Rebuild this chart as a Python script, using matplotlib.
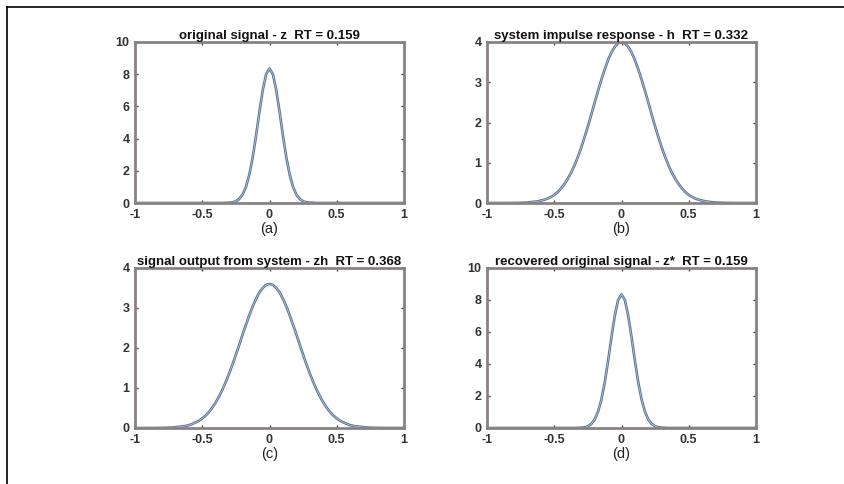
import matplotlib
matplotlib.use("Agg")
import matplotlib.pyplot as plt
import numpy as np
from matplotlib.lines import Line2D

# Sample grid, step 0.025 from -1 to 1
X = np.round(np.arange(-40, 41) * 0.025, 3)

# original signal z
Z = [0, 0, 0, 0, 0, 0, 0, 0, 0, 0, 0, 0, 0, 0, 0, 0, 0, 0, 0, 0, 0, 0, 0, 0, 0, 0, 0,
     0.01, 0.02, 0.04, 0.11, 0.25, 0.52, 1.00, 1.76, 2.83, 4.18, 5.66, 7.02, 8.00,
     8.35,
     8.00, 7.02, 5.66, 4.18, 2.83, 1.76, 1.00, 0.52, 0.25, 0.11, 0.04, 0.02, 0.01,
     0, 0, 0, 0, 0, 0, 0, 0, 0, 0, 0, 0, 0, 0, 0, 0, 0, 0, 0, 0, 0, 0, 0, 0, 0, 0, 0]

# system impulse response h (panel b)
H = [0, 0, 0, 0, 0, 0, 0,
     0.001, 0.002, 0.003, 0.005, 0.008, 0.01, 0.02, 0.03, 0.04, 0.06, 0.08, 0.11,
     0.15, 0.20, 0.27, 0.36, 0.47, 0.60, 0.75, 0.93, 1.14, 1.37, 1.63, 1.90, 2.19,
     2.49, 2.78, 3.06, 3.32, 3.55, 3.74, 3.88, 3.97,
     4.00,
     3.97, 3.88, 3.74, 3.55, 3.32, 3.06, 2.78, 2.49, 2.19, 1.90, 1.63, 1.37, 1.14,
     0.93, 0.75, 0.60, 0.47, 0.36, 0.27, 0.20, 0.15, 0.11, 0.08, 0.06, 0.04, 0.03,
     0.02, 0.01, 0.008, 0.005, 0.003, 0.002, 0.001,
     0, 0, 0, 0, 0, 0, 0]

# signal output from system zh (panel c)
ZH = [0, 0, 0, 0, 0, 0,
      0.001, 0.002, 0.003, 0.005, 0.008, 0.01, 0.02, 0.03, 0.04, 0.05, 0.07, 0.10,
      0.14, 0.18, 0.24, 0.31, 0.40, 0.51, 0.64, 0.79, 0.96, 1.15, 1.36, 1.59, 1.83,
      2.08, 2.34, 2.58, 2.82, 3.04, 3.23, 3.39, 3.50, 3.58,
      3.60,
      3.58, 3.50, 3.39, 3.23, 3.04, 2.82, 2.58, 2.34, 2.08, 1.83, 1.59, 1.36, 1.15,
      0.96, 0.79, 0.64, 0.51, 0.40, 0.31, 0.24, 0.18, 0.14, 0.10, 0.07, 0.05, 0.04,
      0.03, 0.02, 0.01, 0.008, 0.005, 0.003, 0.002, 0.001,
      0, 0, 0, 0, 0, 0]

# recovered original signal z* (panel d)
ZR = [0, 0, 0, 0, 0, 0, 0, 0, 0, 0, 0, 0, 0, 0, 0, 0, 0, 0, 0, 0, 0, 0, 0, 0, 0, 0, 0,
      0.01, 0.02, 0.04, 0.11, 0.25, 0.52, 1.00, 1.76, 2.83, 4.18, 5.66, 7.02, 8.00,
      8.35,
      8.00, 7.02, 5.66, 4.18, 2.83, 1.76, 1.00, 0.52, 0.25, 0.11, 0.04, 0.02, 0.01,
      0, 0, 0, 0, 0, 0, 0, 0, 0, 0, 0, 0, 0, 0, 0, 0, 0, 0, 0, 0, 0, 0, 0, 0, 0, 0, 0]

TITLES = ["original signal - z  RT = 0.159",
          "system impulse response - h  RT = 0.332",
          "signal output from system - zh  RT = 0.368",
          "recovered original signal - z*  RT = 0.159"]
LABELS = ["(a)", "(b)", "(c)", "(d)"]
YMAX = [10, 4, 4, 10]
YSTEP = [2, 1, 1, 2]
XTICKS = [-1, -0.5, 0, 0.5, 1]
XTICK_LABELS = ["-1", "-0.5", "0", "0.5", "1"]

plt.rcParams.update({"font.family": ["Liberation Sans", "DejaVu Sans"]})

W, Hpx = 844, 484
fig = plt.figure(figsize=(W / 100, Hpx / 100), dpi=100)
fig.patch.set_facecolor("white")

# page frame lines (top and left)
fig.add_artist(Line2D([7 / W, 1], [1 - 7 / Hpx, 1 - 7 / Hpx], color="black", lw=1.2))
fig.add_artist(Line2D([7 / W, 7 / W], [0, 1 - 7 / Hpx], color="black", lw=1.2))

boxes = [(135, 42, 404, 203), (487, 42, 756, 203),
         (135, 268, 404, 428), (487, 268, 756, 428)]
series = [Z, H, ZH, ZR]

for i, (l, t, r, b) in enumerate(boxes):
    ax = fig.add_axes([l / W, 1 - b / Hpx, (r - l) / W, (b - t) / Hpx])
    ax.plot(X, series[i], color="#5a7391", lw=1.9,
            solid_capstyle="round", solid_joinstyle="round")
    ax.plot(X, series[i], color="#a9c4dc", lw=0.6, solid_joinstyle="round")
    ax.set_xlim(-1, 1)
    ax.set_ylim(0, YMAX[i])
    ax.set_xticks(XTICKS, XTICK_LABELS)
    ax.set_yticks(np.arange(0, YMAX[i] + 1, YSTEP[i]))
    ax.tick_params(direction="in", length=2.5, width=1.0, color="#444444",
                   top=True, right=True, labelsize=9, labelcolor="#333333", pad=4)
    for lab in ax.get_xticklabels() + ax.get_yticklabels():
        lab.set_fontweight("bold")
    for sp in ax.spines.values():
        sp.set_color("#8a8282")
        sp.set_linewidth(2.0)
    ax.set_title(TITLES[i], fontsize=9.5, fontweight="bold", color="#111111", pad=2)
    ax.set_xlabel(LABELS[i], fontsize=10.5, color="#222222", labelpad=1)

fig.savefig("out.png", dpi=100, facecolor="white")
